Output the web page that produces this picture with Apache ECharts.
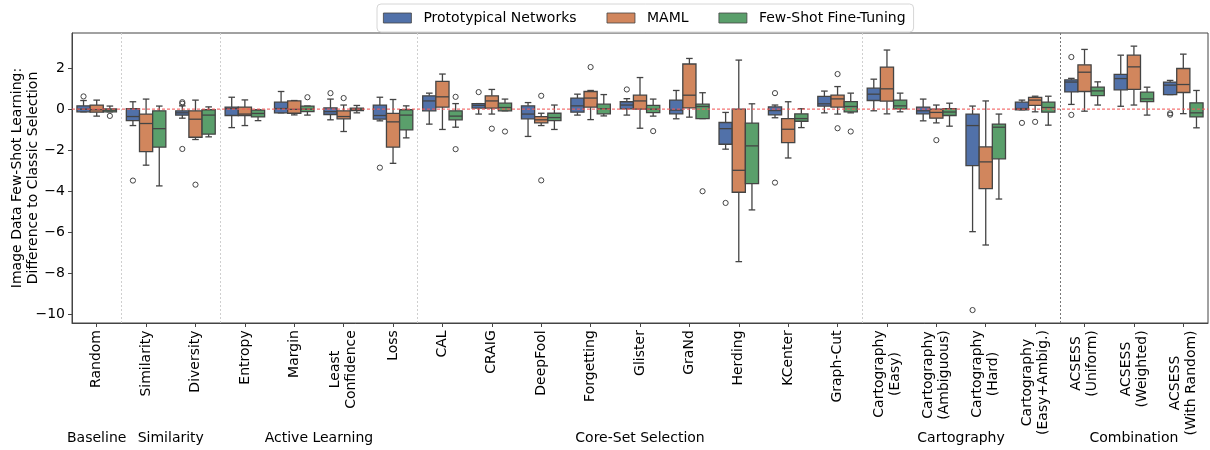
<!DOCTYPE html>
<html><head><meta charset="utf-8">
<script src="https://cdn.jsdelivr.net/npm/echarts@6/dist/echarts.min.js"></script>
<style>html,body{margin:0;padding:0;background:#fff}#c{width:1210px;height:450px}</style>
</head><body><div id="c"></div>
<script>
// ---------------- data ----------------
const categories = ['Random','Similarity','Diversity','Entropy','Margin','Least\nConfidence','Loss','CAL','CRAIG','DeepFool','Forgetting','Glister','GraNd','Herding','KCenter','Graph-Cut','Cartography\n(Easy)','Cartography\n(Ambiguous)','Cartography\n(Hard)','Cartography\n(Easy+Ambig.)','ACSESS\n(Uniform)','ACSESS\n(Weighted)','ACSESS\n(With Random)'];
const seriesNames = ['Prototypical Networks','MAML','Few-Shot Fine-Tuning'];
// [min, q1, median, q3, max] per category
const protoBox = [[-0.13,-0.13,0.0,0.16,0.42],[-0.8,-0.56,-0.36,0.03,0.36],[-0.44,-0.29,-0.18,-0.08,0.16],[-0.9,-0.31,0.03,0.1,0.58],[-0.18,-0.18,0.03,0.34,0.86],[-0.52,-0.26,-0.12,0.06,0.49],[-0.57,-0.49,-0.31,0.2,0.58],[-0.73,-0.08,0.4,0.65,0.78],[-0.24,0.05,0.18,0.27,0.27],[-1.33,-0.47,-0.24,0.16,0.32],[-0.29,-0.15,0.16,0.54,0.73],[-0.29,0.01,0.2,0.36,0.51],[-0.47,-0.23,-0.05,0.44,0.91],[-1.95,-1.71,-0.95,-0.65,-0.16],[-0.42,-0.28,-0.07,0.11,0.2],[-0.18,0.15,0.26,0.62,0.88],[-0.08,0.42,0.73,1.02,1.46],[-0.57,-0.23,-0.08,0.1,0.49],[-5.97,-2.75,-0.8,-0.24,0.15],[-0.03,-0.03,0.03,0.34,0.44],[0.23,0.84,1.32,1.43,1.5],[0.14,0.94,1.49,1.69,2.63],[0.71,0.71,1.17,1.32,1.4]];
const mamlBox = [[-0.34,-0.15,-0.03,0.2,0.44],[-2.73,-2.07,-0.7,-0.24,0.49],[-1.48,-1.37,-0.49,-0.08,0.44],[-0.8,-0.31,-0.24,0.1,0.45],[-0.28,-0.2,-0.01,0.4,0.42],[-1.09,-0.47,-0.36,-0.08,0.2],[-2.64,-1.85,-0.62,-0.21,0.47],[-0.99,0.1,0.6,1.35,1.71],[-0.24,0.05,0.4,0.65,0.96],[-0.8,-0.67,-0.52,-0.36,-0.2],[-0.51,0.1,0.54,0.86,0.91],[-0.93,0.0,0.4,0.68,1.54],[-0.39,0.06,0.68,2.2,2.47],[-7.43,-4.05,-2.98,0.0,2.39],[-2.38,-1.63,-0.98,-0.46,0.36],[-0.24,0.1,0.5,0.68,1.1],[-0.23,0.39,0.99,2.05,2.88],[-0.67,-0.44,-0.16,0.0,0.2],[-6.62,-3.87,-2.57,-1.84,0.4],[-0.13,0.18,0.44,0.57,0.63],[-0.1,0.86,1.8,2.16,2.91],[0.2,0.96,2.06,2.63,3.07],[-0.22,0.81,1.2,1.98,2.68]];
const fsftBox = [[-0.13,-0.13,-0.05,0.01,0.15],[-3.74,-1.85,-0.95,-0.08,0.15],[-1.35,-1.22,-0.29,-0.03,0.11],[-0.56,-0.38,-0.21,-0.05,-0.03],[-0.29,-0.12,0.0,0.15,0.15],[-0.18,-0.07,0.0,0.05,0.18],[-1.4,-1.01,-0.29,-0.03,0.16],[-0.88,-0.52,-0.34,-0.08,0.27],[-0.08,-0.08,0.08,0.29,0.49],[-0.99,-0.56,-0.41,-0.2,0.2],[-0.33,-0.23,0.02,0.24,0.71],[-0.34,-0.17,0.0,0.18,0.49],[-0.46,-0.46,0.13,0.24,0.8],[-4.91,-3.63,-1.79,-0.68,0.26],[-0.9,-0.59,-0.46,-0.23,0.02],[-0.18,-0.13,0.13,0.37,0.78],[-0.13,0.01,0.16,0.44,0.78],[-0.83,-0.31,-0.14,0.03,0.29],[-4.38,-2.42,-0.88,-0.73,-0.24],[-0.78,-0.15,0.08,0.34,0.63],[0.2,0.66,0.89,1.07,1.33],[-0.29,0.37,0.5,0.83,1.07],[-0.91,-0.38,-0.18,0.31,0.91]];
// outliers per category
const protoOut = [[0.62],[-3.48],[0.34,0.27,-1.94],[],[],[0.78],[-2.85],[],[0.83],[],[],[0.96],[],[-4.57],[0.78,-3.58],[],[],[],[-9.79],[-0.67],[2.54,-0.28],[],[-0.2,-0.27]];
const mamlOut = [[],[],[-3.68],[],[],[0.54],[],[],[-0.95],[0.65,-3.47],[2.05],[],[],[],[],[1.71,-0.93],[],[-1.51],[],[-0.62],[],[],[]];
const fsftOut = [[-0.33],[],[],[],[0.58],[],[],[0.6,-1.95],[-1.09],[],[],[-1.07],[-4.0],[],[],[-1.09],[],[],[],[],[],[],[]];
const yTicks = [-10,-8,-6,-4,-2,0,2];
const yRange = [-10.42, 3.71];
const referenceLevel = [0];
const groupNames = ['Baseline','Similarity','Active Learning','Core-Set Selection','Cartography','Combination'];
const groupStart = [0,1,3,7,16,20];
const groupEnd = [0,2,6,15,19,22];
const yTitle = 'Image Data Few-Shot Learning:\nDifference to Classic Selection';

// ---------------- styling ----------------
const FONT = 'DejaVu Sans';
const colors = ['#5171a9','#d1865d','#5a9f6b'];
const edge = '#444444';
const boxSets = [protoBox, mamlBox, fsftBox];
const outSets = [protoOut, mamlOut, fsftOut];

function boxRender(k) {
  return function (params, api) {
    const idx = api.value(0);
    const band = api.size([1, 0])[0];
    const w = band * 0.8 / 3;
    const cx = api.coord([idx, 0])[0] + (k - 1) * w;
    const yMin = api.coord([idx, api.value(1)])[1];
    const yQ1 = api.coord([idx, api.value(2)])[1];
    const yMed = api.coord([idx, api.value(3)])[1];
    const yQ3 = api.coord([idx, api.value(4)])[1];
    const yMax = api.coord([idx, api.value(5)])[1];
    const cap = w / 4, half = w / 2;
    const ls = { stroke: edge, lineWidth: 1.3 };
    return { type: 'group', children: [
      { type: 'line', shape: { x1: cx, y1: yMax, x2: cx, y2: yQ3 }, style: ls },
      { type: 'line', shape: { x1: cx, y1: yQ1, x2: cx, y2: yMin }, style: ls },
      { type: 'line', shape: { x1: cx - cap, y1: yMax, x2: cx + cap, y2: yMax }, style: ls },
      { type: 'line', shape: { x1: cx - cap, y1: yMin, x2: cx + cap, y2: yMin }, style: ls },
      { type: 'rect', shape: { x: cx - half, y: yQ3, width: w, height: Math.max(yQ1 - yQ3, 0.5) }, style: { fill: colors[k], stroke: edge, lineWidth: 1.3 } },
      { type: 'line', shape: { x1: cx - half, y1: yMed, x2: cx + half, y2: yMed }, style: ls }
    ] };
  };
}
function outRender(k) {
  return function (params, api) {
    const idx = api.value(0);
    const band = api.size([1, 0])[0];
    const w = band * 0.8 / 3;
    const p = api.coord([idx, api.value(1)]);
    return { type: 'circle', shape: { cx: p[0] + (k - 1) * w, cy: p[1], r: 2.6 }, style: { fill: 'none', stroke: edge, lineWidth: 1 } };
  };
}

const series = [];
for (let k = 0; k < 3; k++) {
  series.push({
    name: seriesNames[k], type: 'custom', xAxisIndex: 0, yAxisIndex: 0,
    itemStyle: { color: colors[k], borderColor: edge, borderWidth: 1 },
    renderItem: boxRender(k),
    encode: { x: 0, y: [1, 2, 3, 4, 5] },
    data: boxSets[k].map((b, i) => [i].concat(b)),
    z: 3
  });
}
for (let k = 0; k < 3; k++) {
  const pts = [];
  outSets[k].forEach((arr, i) => arr.forEach(v => pts.push([i, v])));
  series.push({
    name: seriesNames[k] + ' outliers', type: 'custom', xAxisIndex: 0, yAxisIndex: 0,
    renderItem: outRender(k), encode: { x: 0, y: 1 }, data: pts, z: 4
  });
}
// group separators
series.push({
  type: 'line', xAxisIndex: 1, yAxisIndex: 0, data: [], silent: true, z: 1,
  markLine: {
    silent: true, symbol: 'none', label: { show: false },
    data: groupStart.slice(1).map((s, i) => ({
      xAxis: s,
      lineStyle: { color: i === groupStart.length - 2 ? '#777' : '#cfcfcf', type: [2, 2], width: 1 }
    }))
  }
});
// red dotted reference line at 0
series.push({
  type: 'custom', xAxisIndex: 1, yAxisIndex: 0, silent: true, z: 8,
  encode: { y: 0 },
  data: referenceLevel.map(v => [v]),
  renderItem: function (params, api) {
    const cs = params.coordSys;
    const y = api.coord([0, api.value(0)])[1];
    return { type: 'line', shape: { x1: cs.x, y1: y, x2: cs.x + cs.width, y2: y },
      style: { stroke: '#f25a5a', lineWidth: 1.1, lineDash: [3, 2], opacity: 0.85 } };
  }
});

// rich styles so the lines of multi-line tick labels are centred on each other
const measureCtx = document.createElement('canvas').getContext('2d');
measureCtx.font = '14px "' + FONT + '"';
const richX = {};
const labelKey = {};
categories.forEach((c, i) => {
  const lines = c.split('\n');
  const w = Math.ceil(Math.max(...lines.map(l => measureCtx.measureText(l).width)));
  const key = 'k' + i;
  labelKey[c] = key;
  richX[key] = { width: w, align: 'center', fontFamily: FONT, fontSize: 14, color: '#000', lineHeight: 16 };
});

const chart = echarts.init(document.getElementById('c'), null, { renderer: 'canvas' });
chart.setOption({
  animation: false,
  backgroundColor: '#fff',
  textStyle: { fontFamily: FONT },
  grid: { left: 72, right: 2, top: 33, bottom: 127, outerBoundsMode: 'none', containLabel: false, show: true, borderColor: '#444', borderWidth: 1, backgroundColor: 'transparent' },
  legend: {
    data: seriesNames.map(n => ({ name: n, icon: 'rect', itemStyle: { borderColor: edge, borderWidth: 0.8 } })),
    left: 377, top: 4, itemWidth: 28, itemHeight: 10, itemGap: 30,
    padding: [7, 8, 7, 6],
    borderColor: '#d6d6d6', borderWidth: 1, borderRadius: 4, backgroundColor: '#fff',
    textStyle: { fontFamily: FONT, fontSize: 14, color: '#000', padding: [0, 0, 0, 7] }
  },
  xAxis: [{
    type: 'category', data: categories, boundaryGap: true,
    axisLine: { onZero: false, lineStyle: { color: '#444', width: 1 } },
    axisTick: { show: true, alignWithLabel: true, length: 4, lineStyle: { color: '#444' } },
    axisLabel: {
      interval: 0, rotate: 90, margin: 7, fontFamily: FONT, fontSize: 14, color: '#000', lineHeight: 16,
      formatter: v => { const key = labelKey[v]; return v.split('\n').map(l => '{' + key + '|' + l + '}').join('\n'); },
      rich: richX
    },
    splitLine: { show: false }
  }, {
    type: 'value', min: 0, max: categories.length, show: false,
    axisLine: { show: false, onZero: false }
  }],
  yAxis: {
    type: 'value', min: yRange[0], max: yRange[1],
    name: yTitle, nameLocation: 'middle', nameRotate: 90, nameGap: 31, nameMoveOverlap: false,
    nameTextStyle: { fontFamily: FONT, fontSize: 14, color: '#000', lineHeight: 16, align: 'center' },
    axisLine: { show: true, onZero: false, lineStyle: { color: '#444', width: 1 } },
    axisTick: { show: true, length: 4, customValues: yTicks, lineStyle: { color: '#444' } },
    axisLabel: { customValues: yTicks, margin: 7, fontFamily: FONT, fontSize: 14, color: '#000',
      formatter: v => String(v).replace('-', '\u2212') },
    splitLine: { show: false }
  },
  series: series
});

// group labels below the axis
const gfx = groupNames.map((name, i) => {
  const center = (groupStart[i] + groupEnd[i] + 1) / 2;
  const x = chart.convertToPixel({ xAxisIndex: 1 }, center);
  return { type: 'text', x: x, y: 438, style: { text: name, fontFamily: FONT, fontSize: 14, fill: '#000', align: 'center', verticalAlign: 'middle' } };
});
chart.setOption({ graphic: gfx });
</script>
</body></html>
